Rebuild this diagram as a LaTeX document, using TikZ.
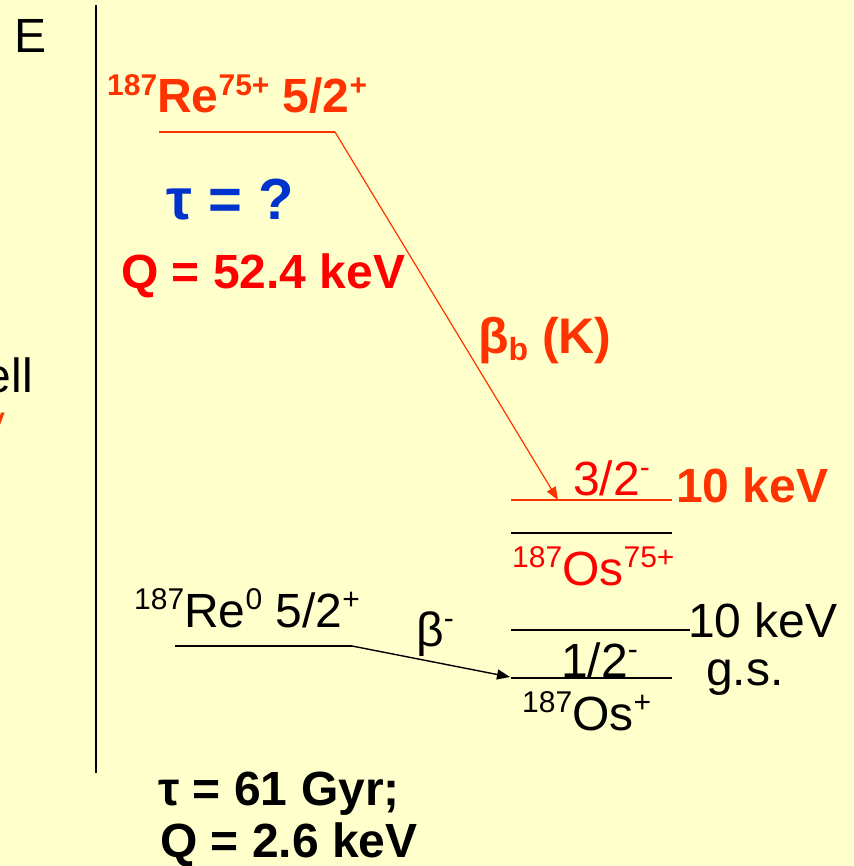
\documentclass[tikz,border=0pt]{standalone}
\usepackage{fontspec}
\setmainfont{Liberation Sans}
\usetikzlibrary{arrows.meta}
\definecolor{bgyel}{HTML}{FFFFCC}
\definecolor{ored}{HTML}{FF3300}
\definecolor{pred}{HTML}{FF0000}
\definecolor{tblue}{HTML}{0033CC}
\newcommand\upr[2][30]{\raisebox{0.36em}{\fontsize{#1}{#1}\selectfont #2}}
\newcommand\dnr[2][32]{\raisebox{-0.14em}{\fontsize{#1}{#1}\selectfont #2}}
\begin{document}
\begin{tikzpicture}[x=1pt,y=-1pt,
  txt/.style={inner sep=0pt, anchor=base west, font=\fontsize{48}{50}\selectfont},
  btxt/.style={txt, font=\fontsize{48}{50}\selectfont\bfseries},
  lvl/.style={line width=1.4pt},
  tip/.style={-{Triangle[length=13pt,width=10pt]}}]
\fill[bgyel] (0,0) rectangle (853,866);
\useasboundingbox (0,0) rectangle (853,866);
\clip (0,0) rectangle (853,866);

% left clipped texts and axis
\node[txt] (E) at (14,53) {E};
\node[txt, anchor=base east] (ell) at (33,392) {ell};
\node[btxt, anchor=base east, text=ored, font=\fontsize{24}{26}\selectfont\bfseries] (frag) at (5,429) {V};
\coordinate (axT) at (96,5);
\coordinate (axB) at (96,773);
\draw[line width=1.5pt] (axT) -- (axB);

% Re 75+ branch
\node[btxt, text=ored] (reH) at (107,113) {\upr{187}Re\upr{75+} 5/2\upr{+}};
\node[btxt, text=tblue, font=\fontsize{58}{60}\selectfont\bfseries] (tau) at (166,220) {τ = ?};
\node[btxt, text=pred] (Q1) at (121,288) {Q = 52.4 keV};
\node[btxt, text=ored, font=\fontsize{50}{52}\selectfont\bfseries] (bb) at (478,353) {β\dnr{b} (K)};
\coordinate (reA) at (159,132);
\coordinate (reB) at (335,132);
\coordinate (reTip) at (558,500);
\draw[ored, lvl] (reA) -- (reB);
\draw[ored, line width=1.2pt, tip] (reB) -- (reTip);

% Os 75+ levels
\coordinate (oK1) at (511,500);
\coordinate (oK2) at (672,500);
\coordinate (oG1) at (511,533);
\coordinate (oG2) at (672,533);
\draw[ored, lvl] (oK1) -- (oK2);
\draw[lvl] (oG1) -- (oG2);
\node[txt, text=pred] (s32) at (573,495) {3/2\upr{-}};
\node[btxt, text=ored] (k10r) at (676,502) {10 keV};
\node[txt, text=pred] (os75) at (512,585) {\upr{187}Os\upr{75+}};

% neutral branch
\node[txt] (re0) at (134,627) {\upr{187}Re\upr{0} 5/2\upr{+}};
\coordinate (r0A) at (175,646);
\coordinate (r0B) at (352,646);
\coordinate (r0Tip) at (510,677);
\draw[lvl] (r0A) -- (r0B);
\draw[line width=1.4pt, tip] (r0B) -- (r0Tip);
\node[txt] (bm) at (416,646) {β\upr{-}};

\coordinate (o1A) at (511,630);
\coordinate (o1B) at (690,630);
\coordinate (o0A) at (511,678);
\coordinate (o0B) at (672,678);
\draw[lvl] (o1A) -- (o1B);
\draw[lvl] (o0A) -- (o0B);
\node[txt] (k10) at (688,637) {10 keV};
\node[txt] (s12) at (561,677) {1/2\upr{-}};
\node[txt] (gs) at (706,685) {g.s.};
\node[txt] (osp) at (522,730) {\upr{187}Os\upr{+}};

% bottom
\node[btxt] (t61) at (158,805) {τ = 61 Gyr;};
\node[btxt] (Q2) at (160,857) {Q = 2.6 keV};
\end{tikzpicture}
\end{document}
